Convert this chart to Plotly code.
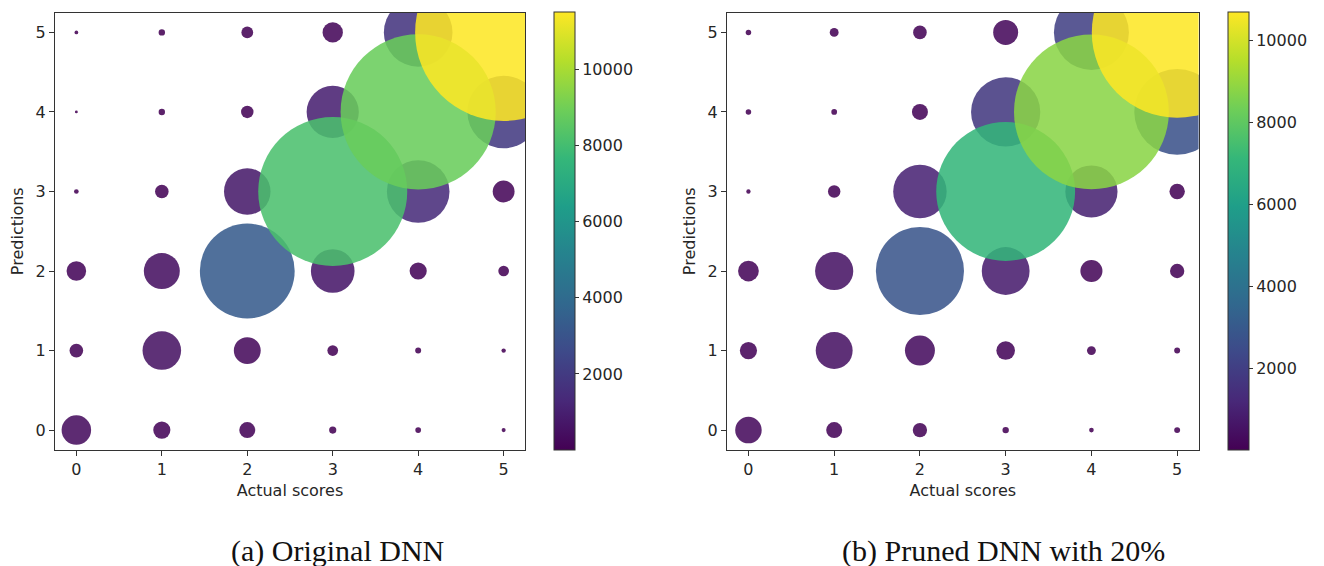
import plotly.graph_objects as go

# Confusion-count matrices: rows = predictions 0..5, columns = actual scores 0..5
actual_scores = [0, 1, 2, 3, 4, 5]
predictions = [0, 1, 2, 3, 4, 5]

counts_original = [
    [320, 108, 94, 19, 12, 6],
    [68, 547, 265, 42, 13, 7],
    [141, 475, 3300, 700, 108, 42],
    [8, 68, 795, 8150, 1440, 175],
    [3, 15, 57, 1000, 8840, 1930],
    [5, 15, 51, 152, 1730, 11500],
]

counts_pruned = [
    [258, 94, 75, 15, 8, 13],
    [108, 500, 330, 127, 29, 13],
    [158, 535, 2850, 840, 179, 75],
    [7, 57, 1050, 7080, 1000, 87],
    [11, 12, 94, 1760, 8800, 2700],
    [11, 29, 68, 229, 2064, 10700],
]

colorbar_ticks = [2000, 4000, 6000, 8000, 10000]
colorbar_labels = ["2000", "4000", "6000", "8000", "10000"]
captions = ["(a) Original DNN", "(b) Pruned DNN with 20%"]

W, H = 1324, 566
FONT = "DejaVu Sans"
TXT = "#262626"


def flatten(matrix):
    pts = []
    for pi, row in enumerate(matrix):
        for ai, c in enumerate(row):
            pts.append((actual_scores[ai], predictions[pi], c))
    pts.sort(key=lambda t: t[2])  # larger bubbles drawn on top
    return pts


fig = go.Figure()

panels = [
    dict(m=counts_original, xa="x", ya="y", cbx=554.3),
    dict(m=counts_pruned, xa="x2", ya="y2", cbx=1227.7),
]

for p in panels:
    pts = flatten(p["m"])
    xs = [t[0] for t in pts]
    ys = [t[1] for t in pts]
    cs = [t[2] for t in pts]
    fig.add_trace(go.Scatter(
        x=xs, y=ys, mode="markers", xaxis=p["xa"], yaxis=p["ya"],
        showlegend=False, cliponaxis=True,
        marker=dict(
            size=cs, sizemode="area", sizeref=0.734, sizemin=0,
            color=cs, colorscale="Viridis", cmin=min(cs), cmax=max(cs),
            opacity=0.87, line=dict(width=0),
            colorbar=dict(
                x=p["cbx"] / W, xanchor="left", xref="paper", xpad=0,
                y=1 - 12 / H, yanchor="top", yref="paper", ypad=0,
                len=438, lenmode="pixels", thickness=21,
                outlinecolor="#333333", outlinewidth=1,
                tickvals=colorbar_ticks, ticktext=colorbar_labels,
                ticks="outside", ticklen=4,
                tickcolor="#333333", tickwidth=1,
                tickfont=dict(family=FONT, size=16, color=TXT),
            ),
        ),
    ))

axis_common = dict(
    range=[-0.25, 5.25], tickvals=[0, 1, 2, 3, 4, 5],
    showgrid=False, zeroline=False, showline=True, mirror=True,
    linecolor="#333333", linewidth=1, ticks="outside", ticklen=5,
    tickcolor="#333333", tickwidth=1,
    tickfont=dict(family=FONT, size=16, color=TXT),
)

ybot = 1 - 450 / H
ytop = 1 - 12.5 / H

fig.update_layout(
    width=W, height=H,
    margin=dict(l=0, r=0, t=0, b=0),
    paper_bgcolor="white", plot_bgcolor="white",
    xaxis=dict(domain=[55 / W, 525 / W], anchor="y",
               title=dict(text="Actual scores", standoff=6,
                          font=dict(family=FONT, size=16, color=TXT)),
               **axis_common),
    yaxis=dict(domain=[ybot, ytop], anchor="x",
               title=dict(text="Predictions", standoff=8,
                          font=dict(family=FONT, size=16, color=TXT)),
               **axis_common),
    xaxis2=dict(domain=[727 / W, 1198.6 / W], anchor="y2",
                title=dict(text="Actual scores", standoff=6,
                           font=dict(family=FONT, size=16, color=TXT)),
                **axis_common),
    yaxis2=dict(domain=[ybot, ytop], anchor="x2",
                title=dict(text="Predictions", standoff=8,
                           font=dict(family=FONT, size=16, color=TXT)),
                **axis_common),
    annotations=[
        dict(text=captions[0], x=337.5 / W, y=1 - 551 / H, xref="paper", yref="paper",
             xanchor="center", yanchor="middle", showarrow=False,
             font=dict(family="Liberation Serif", size=30, color="#111111")),
        dict(text=captions[1], x=1003 / W, y=1 - 551 / H, xref="paper", yref="paper",
             xanchor="center", yanchor="middle", showarrow=False,
             font=dict(family="Liberation Serif", size=30, color="#111111")),
    ],
)

fig.write_html("out.html")
